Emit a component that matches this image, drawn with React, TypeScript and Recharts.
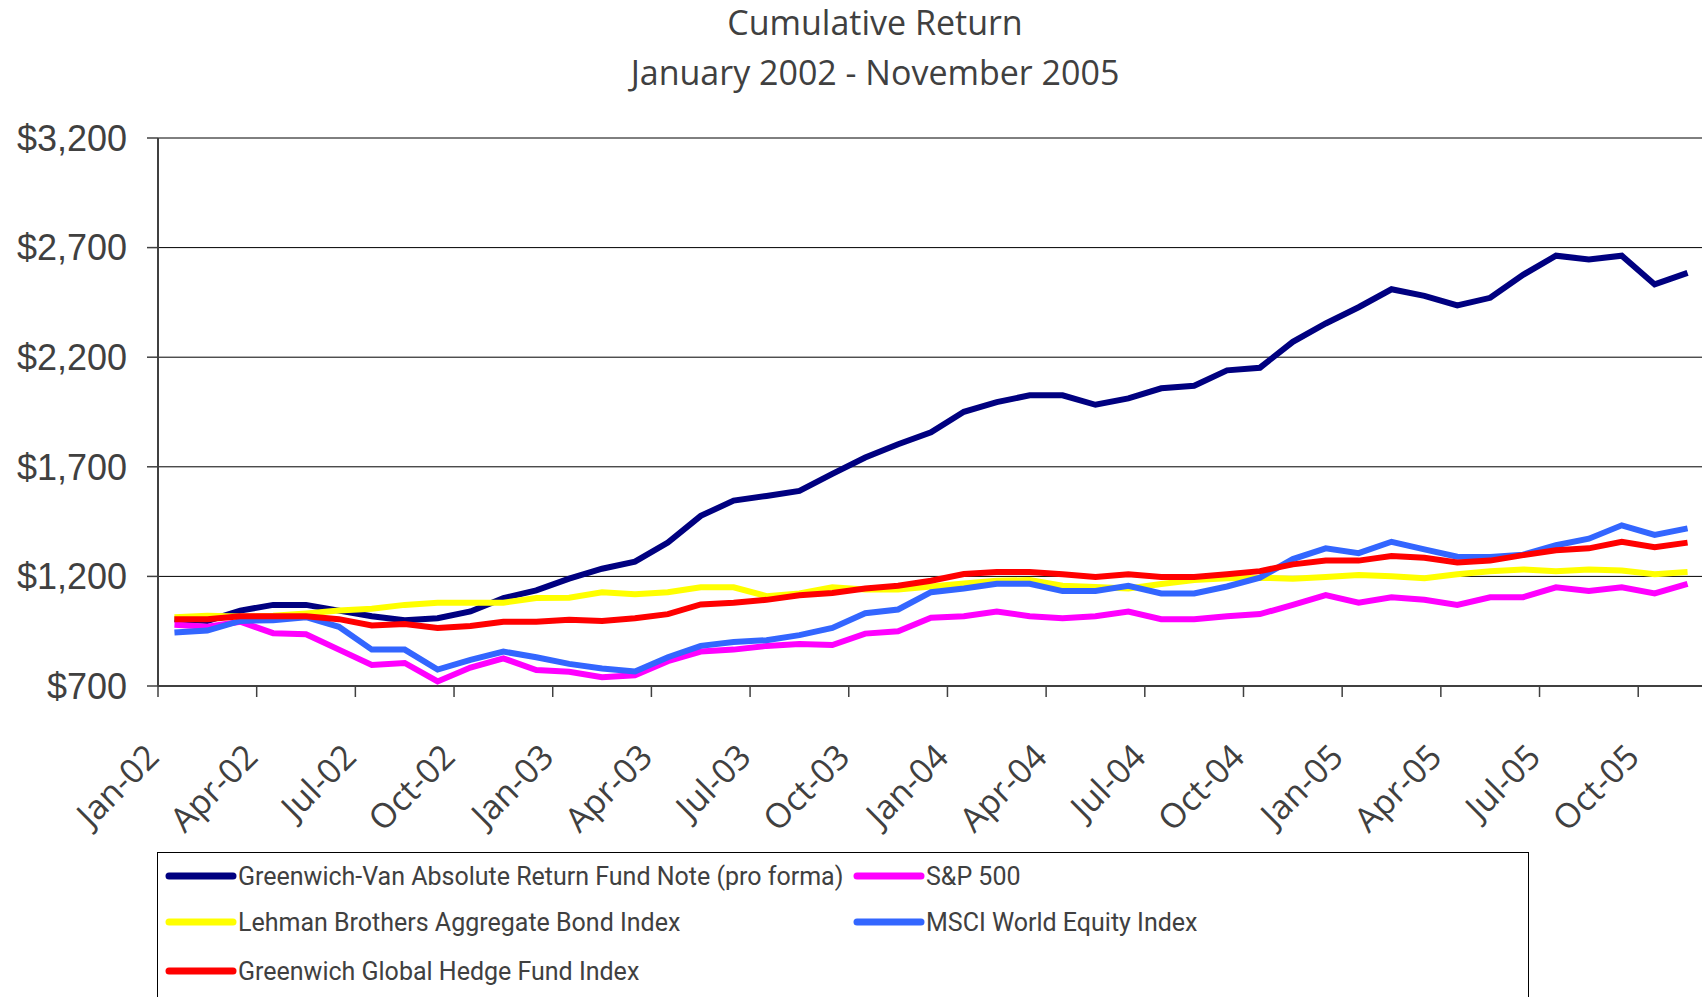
import React from 'react';
import { LineChart, Line, XAxis, YAxis, CartesianGrid, Legend } from 'recharts';

const months = [
  'Jan-02', 'Feb-02', 'Mar-02', 'Apr-02', 'May-02', 'Jun-02', 'Jul-02', 'Aug-02', 'Sep-02', 'Oct-02', 'Nov-02', 'Dec-02',
  'Jan-03', 'Feb-03', 'Mar-03', 'Apr-03', 'May-03', 'Jun-03', 'Jul-03', 'Aug-03', 'Sep-03', 'Oct-03', 'Nov-03', 'Dec-03',
  'Jan-04', 'Feb-04', 'Mar-04', 'Apr-04', 'May-04', 'Jun-04', 'Jul-04', 'Aug-04', 'Sep-04', 'Oct-04', 'Nov-04', 'Dec-04',
  'Jan-05', 'Feb-05', 'Mar-05', 'Apr-05', 'May-05', 'Jun-05', 'Jul-05', 'Aug-05', 'Sep-05', 'Oct-05', 'Nov-05',
];

const tickLabels = [
  'Jan-02', 'Apr-02', 'Jul-02', 'Oct-02', 'Jan-03', 'Apr-03', 'Jul-03', 'Oct-03',
  'Jan-04', 'Apr-04', 'Jul-04', 'Oct-04', 'Jan-05', 'Apr-05', 'Jul-05', 'Oct-05',
];

const yTicks = [700, 1200, 1700, 2200, 2700, 3200];

// values, one per month
const greenwichVan = [
  1005, 997, 1044, 1070, 1070, 1044, 1018, 1000, 1009, 1040, 1101, 1136,
  1190, 1235, 1267, 1354, 1476, 1546, 1567, 1590, 1668, 1742, 1803, 1857,
  1951, 1995, 2026, 2026, 1983, 2012, 2058, 2070, 2140, 2152, 2270, 2354,
  2428, 2510, 2480, 2436, 2471, 2576, 2663, 2646, 2663, 2532, 2585,
];
const sp500 = [
  979, 970, 993, 941, 936, 866, 796, 805, 721, 784, 826, 773,
  765, 740, 749, 813, 857, 866, 883, 892, 887, 939, 950, 1011,
  1018, 1040, 1018, 1009, 1018, 1040, 1005, 1005, 1018, 1028, 1070, 1115,
  1080, 1105, 1093, 1070, 1105, 1105, 1150, 1133, 1150, 1122, 1166,
];
const lehman = [
  1014, 1021, 1017, 1020, 1031, 1044, 1052, 1070, 1080, 1080, 1080, 1101,
  1103, 1128, 1119, 1128, 1150, 1150, 1110, 1122, 1150, 1140, 1140, 1154,
  1168, 1180, 1183, 1157, 1152, 1145, 1165, 1183, 1192, 1194, 1189, 1197,
  1206, 1201, 1192, 1210, 1224, 1232, 1224, 1232, 1227, 1210, 1220,
];
const msci = [
  944, 953, 997, 1000, 1014, 970, 866, 866, 775, 819, 857, 831,
  801, 780, 766, 831, 883, 901, 909, 932, 965, 1032, 1049, 1128,
  1145, 1166, 1166, 1133, 1133, 1157, 1122, 1122, 1154, 1194, 1279, 1328,
  1306, 1358, 1323, 1290, 1288, 1299, 1342, 1372, 1433, 1389, 1419,
];
const globalHedge = [
  1005, 1005, 1018, 1018, 1018, 1005, 976, 983, 965, 974, 993, 993,
  1002, 997, 1009, 1028, 1072, 1080, 1093, 1114, 1124, 1145, 1157, 1180,
  1211, 1220, 1220, 1210, 1197, 1210, 1197, 1197, 1210, 1224, 1255, 1272,
  1272, 1293, 1285, 1264, 1272, 1297, 1319, 1328, 1358, 1333, 1354,
];

const series = [
  { key: 'gv', name: 'Greenwich-Van Absolute Return Fund Note (pro forma)', color: '#000080', values: greenwichVan },
  { key: 'sp', name: 'S&P 500', color: '#FF00FF', values: sp500 },
  { key: 'lb', name: 'Lehman Brothers Aggregate Bond Index', color: '#FFFF00', values: lehman },
  { key: 'ms', name: 'MSCI World Equity Index', color: '#3366FF', values: msci },
  { key: 'gg', name: 'Greenwich Global Hedge Fund Index', color: '#FF0000', values: globalHedge },
];

const data = months.map((m, i) => {
  const row: Record<string, number | string> = { i, month: m };
  series.forEach(s => { row[s.key] = s.values[i]; });
  return row;
});

// ticks sit on the boundaries between quarters
const xTicks = tickLabels.map((_, k) => k * 3 - 0.5);

const TEXT = '#404040';
const SANS = '"Open Sans", "Liberation Sans", sans-serif';

const XTick = (props: any) => {
  const { x, payload } = props;
  const label = tickLabels[Math.round((payload.value + 0.5) / 3)];
  const ax = x + 3;
  const ay = 759;
  return (
    <text x={ax} y={ay} textAnchor="end" fill={TEXT} fontSize={34} fontFamily={SANS}
      transform={`rotate(-45, ${ax}, ${ay})`}>
      {label}
    </text>
  );
};

const LegendBox = () => {
  const cols = [7, 695];
  const rows = [23, 69, 118];
  return (
    <div style={{ position: 'relative', width: 1372, height: 160, border: '1.5px solid #000', boxSizing: 'border-box' }}>
      {series.map((s, idx) => {
        const left = cols[idx % 2];
        const top = rows[Math.floor(idx / 2)];
        return (
          <div key={s.key} style={{ position: 'absolute', left, top: top - 16, height: 32, display: 'flex', alignItems: 'center' }}>
            <svg width={72} height={12} style={{ display: 'block' }}>
              <line x1={4} y1={6} x2={68} y2={6} stroke={s.color} strokeWidth={7} strokeLinecap="round" />
            </svg>
            <span style={{ fontFamily: 'Roboto, "Open Sans", sans-serif', fontSize: 25, color: TEXT, marginLeft: 1, whiteSpace: 'nowrap' }}>{s.name}</span>
          </div>
        );
      })}
    </div>
  );
};

export default function App() {
  return (
    <div style={{ position: 'absolute', left: 0, top: 0, width: 1702, height: 997, overflow: 'hidden', background: '#fff' }}>
      <div style={{ position: 'absolute', left: 0, top: 0, width: 1702, paddingLeft: 48, boxSizing: 'border-box', textAlign: 'center', fontFamily: SANS, fontSize: 34, color: TEXT }}>
        <div style={{ lineHeight: '44px' }}>Cumulative Return</div>
        <div style={{ lineHeight: '45px', marginTop: 6 }}>January 2002 - November 2005</div>
      </div>
      <LineChart width={1712} height={997} data={data} margin={{ top: 138, right: 8, bottom: 211, left: 0 }}>
        <CartesianGrid horizontal vertical={false} stroke="#000" strokeWidth={1} />
        <XAxis
          type="number"
          dataKey="i"
          domain={[-0.5, 46.5]}
          ticks={xTicks}
          interval={0}
          height={100}
          axisLine={{ stroke: TEXT, strokeWidth: 2 }}
          tickLine={{ stroke: TEXT, strokeWidth: 1.5 }}
          tickSize={11}
          tick={<XTick />}
          allowDataOverflow
        />
        <YAxis
          type="number"
          domain={[700, 3200]}
          ticks={yTicks}
          width={158}
          interval={0}
          axisLine={{ stroke: TEXT, strokeWidth: 2 }}
          tickLine={{ stroke: TEXT, strokeWidth: 1.5 }}
          tickSize={11}
          tickMargin={20}
          tickFormatter={(v: number) => `$${v.toLocaleString('en-US')}`}
          tick={{ fill: TEXT, fontSize: 36, fontFamily: '"Liberation Sans", Arial, sans-serif' }}
        />
        {series.map(s => (
          <Line
            key={s.key}
            type="linear"
            dataKey={s.key}
            name={s.name}
            stroke={s.color}
            strokeWidth={6}
            dot={false}
            activeDot={false}
            isAnimationActive={false}
          />
        ))}
        <Legend
          layout="horizontal"
          verticalAlign="middle"
          align="center"
          content={() => <LegendBox />}
          wrapperStyle={{ position: 'absolute', left: 157, top: 852, width: 1372, height: 160 }}
        />
      </LineChart>
    </div>
  );
}
